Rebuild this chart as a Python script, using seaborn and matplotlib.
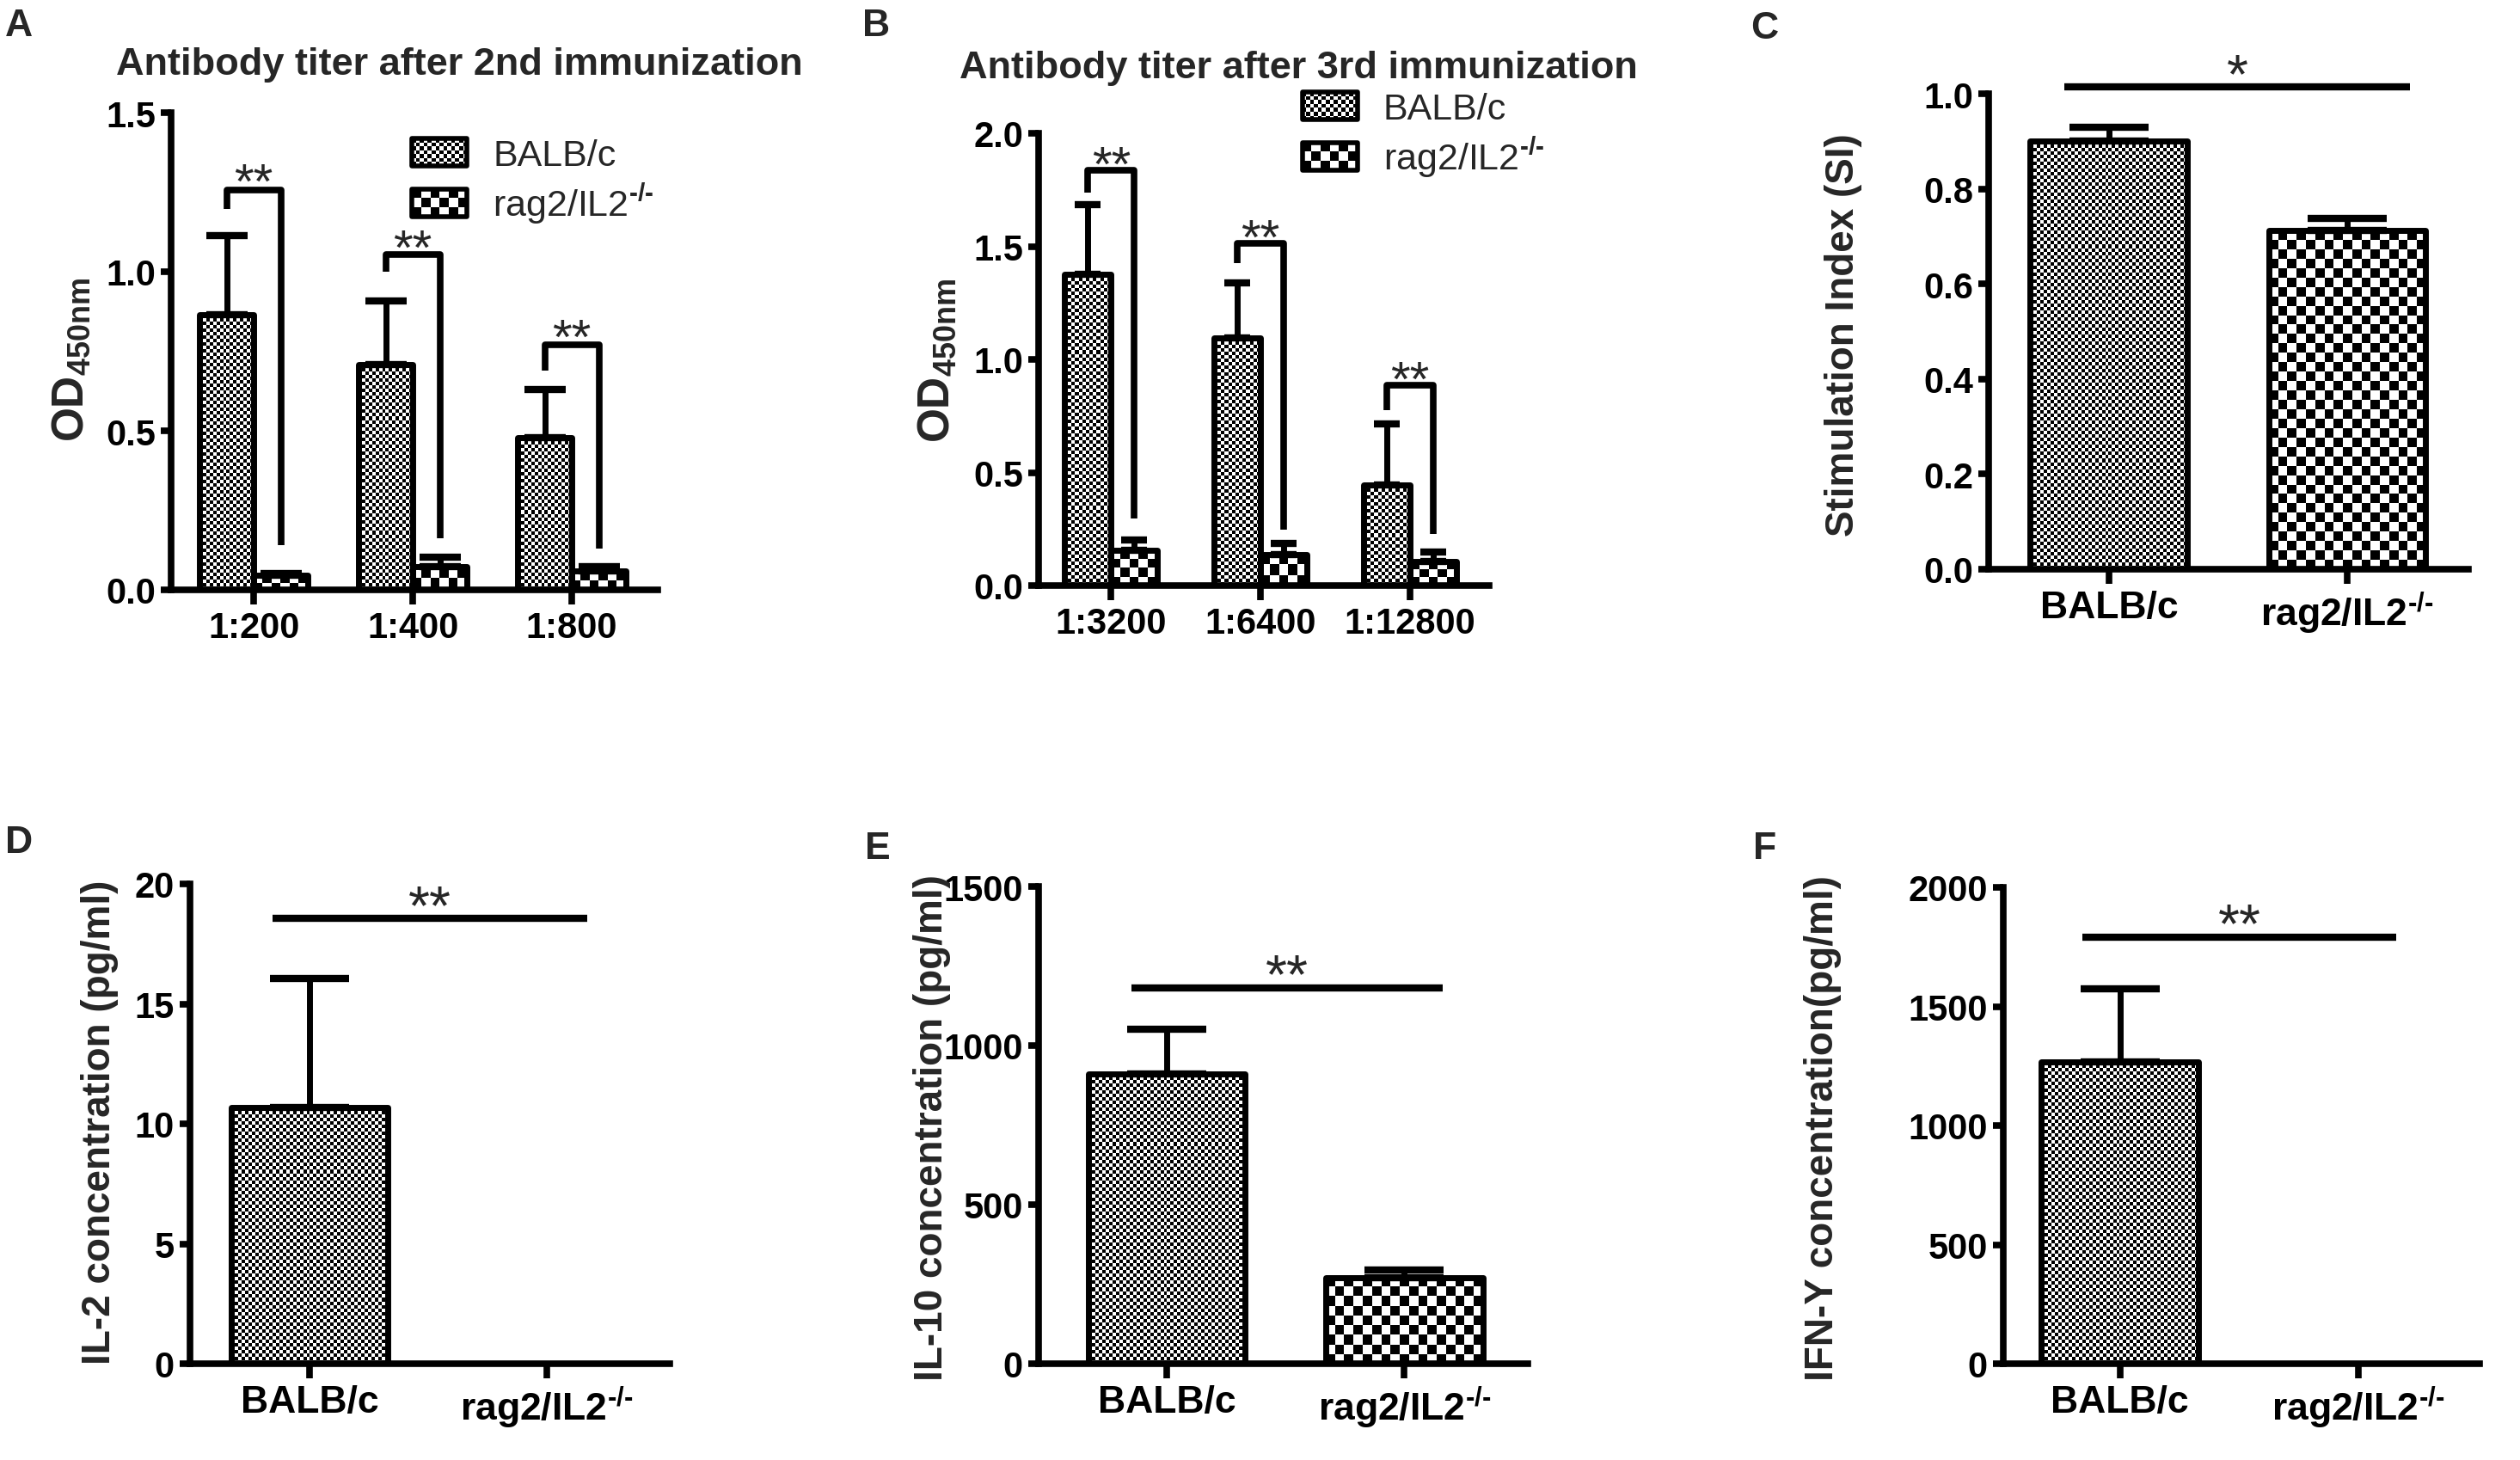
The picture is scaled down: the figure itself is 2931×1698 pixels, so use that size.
import numpy as np
import pandas as pd
import matplotlib
matplotlib.use("Agg")
import matplotlib.pyplot as plt
import seaborn as sns
from matplotlib.patches import Rectangle, Patch
from matplotlib.legend_handler import HandlerBase
from matplotlib.ticker import FixedLocator, FormatStrFormatter

# ---------------- data ----------------
strains = ["BALB/c", "rag2/IL2-/-"]
strain_tick_labels = ["BALB/c", "rag2/IL2$^{\\mathbf{\u2010/\u2010}}$"]
strain_legend_labels = ["BALB/c", "rag2/IL2$^{\u2010/\u2010}$"]

# Panel A: antibody titer after 2nd immunization
a_dilutions = ["1:200", "1:400", "1:800"]
a_balb_mean = [0.864, 0.707, 0.478]
a_balb_sem = [0.250, 0.201, 0.151]
a_rag_mean = [0.045, 0.073, 0.059]
a_rag_sem = [0.006, 0.031, 0.014]
a_bracket_top = [1.258, 1.055, 0.769]
a_bracket_left_end = [1.196, 1.000, 0.689]
a_bracket_right_end = [0.140, 0.163, 0.129]
a_star_y = [1.325, 1.117, 0.834]
a_stars = ["**", "**", "**"]

# Panel B: antibody titer after 3rd immunization
b_dilutions = ["1:3200", "1:6400", "1:12800"]
b_balb_mean = [1.375, 1.095, 0.444]
b_balb_sem = [0.308, 0.244, 0.272]
b_rag_mean = [0.156, 0.138, 0.107]
b_rag_sem = [0.044, 0.047, 0.043]
b_bracket_top = [1.835, 1.514, 0.885]
b_bracket_left_end = [1.737, 1.426, 0.774]
b_bracket_right_end = [0.298, 0.249, 0.230]
b_star_y = [1.922, 1.597, 0.969]
b_stars = ["**", "**", "**"]

# Panel C: stimulation index
c_mean = [0.900, 0.712]
c_sem = [0.030, 0.026]
c_sig_y, c_star_y, c_star = 1.014, 1.07, "*"

# Panel D: IL-2
d_mean = [10.68, 0.0]
d_sem = [5.36, 0.0]
d_sig_y, d_star_y, d_star = 18.55, 19.68, "**"

# Panel E: IL-10
e_mean = [912.0, 271.0]
e_sem = [140.0, 24.0]
e_sig_y, e_star_y, e_star = 1182.0, 1267.0, "**"

# Panel F: IFN-Y
f_mean = [1268.0, 0.0]
f_sem = [306.0, 0.0]
f_sig_y, f_star_y, f_star = 1792.0, 1906.0, "**"

# ---------------- style ----------------
sns.set_theme(style="ticks")
plt.rcParams["font.family"] = ["Liberation Sans", "DejaVu Sans"]
plt.rcParams["font.weight"] = "bold"
plt.rcParams["axes.labelweight"] = "bold"
plt.rcParams["mathtext.fontset"] = "custom"
plt.rcParams["mathtext.rm"] = "Liberation Sans"
plt.rcParams["mathtext.bf"] = "Liberation Sans:bold"
plt.rcParams["mathtext.it"] = "Liberation Sans:italic"

W, H = 2931, 1699
fig = plt.figure(figsize=(W / 100, H / 100), dpi=100)
fig.patch.set_facecolor("white")

LW_SPINE = 5.5
LW_BAR = 5.0
LW_ERR = 5.0
LW_SIG = 6.0
STAR_FS = 46
FINE, COARSE = 4, 11


def make_ax(left, right, top, bottom):
    return fig.add_axes([left / W, 1 - bottom / H, (right - left) / W, (bottom - top) / H])


def style_ax(ax, xlim, ylim, yticks, fmt, ytick_size, xtick_size):
    ax.set_xlim(*xlim)
    ax.set_ylim(*ylim)
    for s in ["top", "right"]:
        ax.spines[s].set_visible(False)
    for s in ["left", "bottom"]:
        ax.spines[s].set_linewidth(LW_SPINE)
        ax.spines[s].set_color("black")
        ax.spines[s].set_capstyle("projecting")
    ax.yaxis.set_major_locator(FixedLocator(yticks))
    ax.yaxis.set_major_formatter(FormatStrFormatter(fmt))
    ax.tick_params(axis="y", length=9, width=LW_SPINE, labelsize=ytick_size, pad=4, colors="black")
    ax.tick_params(axis="x", length=12, width=LW_SPINE, labelsize=xtick_size, pad=5, colors="black")
    ax.set_xlabel("")
    ax.set_ylabel("")
    ax.set_facecolor("none")
    for t in ax.get_xticklabels() + ax.get_yticklabels():
        t.set_fontweight("bold")


def bars_of(cont):
    return [b for b in cont if b is not None]


def fill_checker(ax, bar, cell_px):
    x0, w, h = bar.get_x(), bar.get_width(), bar.get_height()
    bar.set_joinstyle("round")
    if h <= 0:
        return
    p0 = ax.transData.transform((x0, 0))
    p1 = ax.transData.transform((x0 + w, h))
    nx = max(1, int(round((p1[0] - p0[0]) / cell_px)))
    ny = max(1, int(round((p1[1] - p0[1]) / cell_px)))
    board = np.indices((ny, nx)).sum(axis=0) % 2
    im = ax.imshow(board, cmap="gray", vmin=0, vmax=1, extent=(x0, x0 + w, 0, h),
                   origin="lower", interpolation="nearest", aspect="auto", zorder=0.5)
    im.set_clip_path(bar)
    bar.set_facecolor("none")


def add_errors(ax, bars, means, sems, capsize):
    xs = [b.get_x() + b.get_width() / 2 for b in bars]
    ax.errorbar(xs, means, yerr=[np.zeros(len(sems)), sems], fmt="none", ecolor="black",
                elinewidth=LW_ERR, capsize=capsize, capthick=6, zorder=3, clip_on=False)
    return xs


def star(ax, x, y, s, size):
    ax.annotate(s, xy=(x, y), xytext=(0, -0.58 * size), textcoords="offset points",
                ha="center", va="baseline", fontsize=size, fontweight="normal",
                annotation_clip=False)


class CheckerHandler(HandlerBase):
    def __init__(self, nx, ny):
        super().__init__()
        self.nx, self.ny = nx, ny

    def create_artists(self, legend, orig_handle, xdescent, ydescent, width, height, fontsize, trans):
        arts = []
        cw, ch = width / self.nx, height / self.ny
        for i in range(self.nx):
            for j in range(self.ny):
                if (i + j) % 2 == 0:
                    arts.append(Rectangle((-xdescent + i * cw, -ydescent + j * ch), cw, ch,
                                          facecolor="black", edgecolor="none", transform=trans))
        arts.append(Rectangle((-xdescent, -ydescent), width, height, facecolor="none",
                              edgecolor="black", lw=4, joinstyle="round", transform=trans))
        return arts


def grouped_panel(geom, xlim, dil, balb_m, balb_s, rag_m, rag_s, br_top, br_l, br_r, st_y, st,
                  ylim, yticks, width, capsize, legend_anchor):
    ax = make_ax(*geom)
    df = pd.DataFrame({"dilution": dil * 2,
                       "strain": [strains[0]] * len(dil) + [strains[1]] * len(dil),
                       "od": balb_m + rag_m})
    sns.barplot(data=df, x="dilution", y="od", hue="strain", order=dil, hue_order=strains,
                palette=["white", "white"], saturation=1, edgecolor="black", linewidth=LW_BAR,
                width=width, errorbar=None, legend=False, ax=ax)
    style_ax(ax, xlim, ylim, yticks, "%.1f", 30, 30)
    ax.xaxis.set_major_locator(FixedLocator(range(len(dil))))
    ax.set_xticklabels(dil, fontweight="bold")
    conts = [bars_of(c) for c in ax.containers]
    for ci, cont in enumerate(conts):
        for b in cont:
            fill_checker(ax, b, FINE if ci == 0 else COARSE)
    xl = add_errors(ax, conts[0], balb_m, balb_s, capsize)
    xr = add_errors(ax, conts[1], rag_m, rag_s, capsize)
    for i in range(len(dil)):
        ax.plot([xl[i], xl[i], xr[i], xr[i]], [br_l[i], br_top[i], br_top[i], br_r[i]],
                color="black", lw=LW_SIG - 0.5, solid_joinstyle="round", solid_capstyle="butt",
                clip_on=False, zorder=4)
        star(ax, (xl[i] + xr[i]) / 2, st_y[i], st[i], 42)
    h0 = Patch(facecolor="white", edgecolor="black", label=strain_legend_labels[0])
    h1 = Patch(facecolor="white", edgecolor="black", label=strain_legend_labels[1])
    lfs = 31
    px = lfs * 100 / 72
    leg = ax.legend(handles=[h0, h1], loc="center left", bbox_to_anchor=legend_anchor,
                    frameon=False, fontsize=lfs, handlelength=64 / px, handleheight=33 / px,
                    labelspacing=0.22, handletextpad=30 / px, borderpad=0, borderaxespad=0,
                    handler_map={h0: CheckerHandler(14, 7), h1: CheckerHandler(6, 3)})
    for t in leg.get_texts():
        t.set_fontweight("normal")
    return ax


def single_panel(geom, xlim, means, sems, sig_y, sig_x, st_y, st, ylim, yticks, fmt,
                 capsize, xtick_size=32, ytick_size=30):
    ax = make_ax(*geom)
    df = pd.DataFrame({"strain": strains, "val": means})
    sns.barplot(data=df, x="strain", y="val", hue="strain", order=strains, hue_order=strains,
                palette=["white", "white"], saturation=1, edgecolor="black", linewidth=LW_BAR,
                width=0.66, errorbar=None, legend=False, ax=ax)
    style_ax(ax, xlim, ylim, yticks, fmt, ytick_size, xtick_size)
    ax.xaxis.set_major_locator(FixedLocator(range(len(strains))))
    ax.set_xticklabels(strain_tick_labels, fontweight="bold")
    all_bars = [b for c in ax.containers for b in bars_of(c)]
    for b in all_bars:
        idx = int(round(b.get_x() + b.get_width() / 2))
        fill_checker(ax, b, FINE if idx == 0 else COARSE)
        if means[idx] > 0:
            add_errors(ax, [b], [means[idx]], [sems[idx]], capsize)
    ax.plot(sig_x, [sig_y, sig_y], color="black", lw=LW_SIG, solid_capstyle="butt",
            clip_on=False, zorder=4)
    star(ax, sum(sig_x) / 2, st_y, st, STAR_FS)
    return ax


# ---------------- panels ----------------
grouped_panel((199, 765, 132, 687), (-0.52, 2.54), a_dilutions, a_balb_mean, a_balb_sem,
              a_rag_mean, a_rag_sem, a_bracket_top, a_bracket_left_end, a_bracket_right_end,
              a_star_y, a_stars, (0, 1.5), [0, 0.5, 1.0, 1.5], 0.68, 17, (0.495, 0.855))

grouped_panel((1208, 1732, 156, 682), (-0.485, 2.53), b_dilutions, b_balb_mean, b_balb_sem,
              b_rag_mean, b_rag_sem, b_bracket_top, b_bracket_left_end, b_bracket_right_end,
              b_star_y, b_stars, (0, 2.0), [0, 0.5, 1.0, 1.5, 2.0], 0.62, 11, (0.585, 0.995))

single_panel((2313, 2871, 110, 663), (-0.505, 1.509), c_mean, c_sem, c_sig_y, (-0.186, 1.264),
             c_star_y, c_star, (0, 1.0), [0, 0.2, 0.4, 0.6, 0.8, 1.0], "%.1f", 33)

single_panel((221, 779, 1029, 1587), (-0.504, 1.518), d_mean, d_sem, d_sig_y, (-0.157, 1.169),
             d_star_y, d_star, (0, 20), [0, 5, 10, 15, 20], "%d", 33)

single_panel((1208, 1777, 1032, 1587), (-0.54, 1.52), e_mean, e_sem, e_sig_y, (-0.15, 1.162),
             e_star_y, e_star, (0, 1500), [0, 500, 1000, 1500], "%d", 33)

single_panel((2330, 2884, 1033, 1587), (-0.49, 1.51), f_mean, f_sem, f_sig_y, (-0.157, 1.16),
             f_star_y, f_star, (0, 2000), [0, 500, 1000, 1500, 2000], "%d", 33)

# ---------------- figure texts ----------------
def ftext(x, y, s, **kw):
    fig.text(x / W, 1 - y / H, s, **kw)

ftext(534, 75, "Antibody titer after 2nd immunization", ha="center", va="center",
      fontsize=32.5, fontweight="bold")
ftext(1510, 80, "Antibody titer after 3rd immunization", ha="center", va="center",
      fontsize=32.5, fontweight="bold")

for letter, (lx, ly) in zip("ABCDEF", [(6, 10), (1003, 10), (2036, 13), (6, 960),
                                        (1006, 967), (2039, 967)]):
    ftext(lx, ly, letter, ha="left", va="top", fontsize=32, fontweight="bold")

ylabels = [
    ((83, 418), r"$\mathbf{OD_{450nm}}$", 37),
    ((1090, 419), r"$\mathbf{OD_{450nm}}$", 37),
    ((2144, 390), "Stimulation Index (SI)", 33),
    ((116, 1305), "IL-2 concentration (pg/ml)", 33),
    ((1084, 1312), "IL-10 concentration (pg/ml)", 33),
    ((2120, 1312), "IFN-Y concentration(pg/ml)", 33),
]
for (lx, ly), s, size in ylabels:
    ftext(lx, ly, s, ha="center", va="center", rotation=90, fontsize=size, fontweight="bold")

fig.savefig("out.png", dpi=100, facecolor="white")
